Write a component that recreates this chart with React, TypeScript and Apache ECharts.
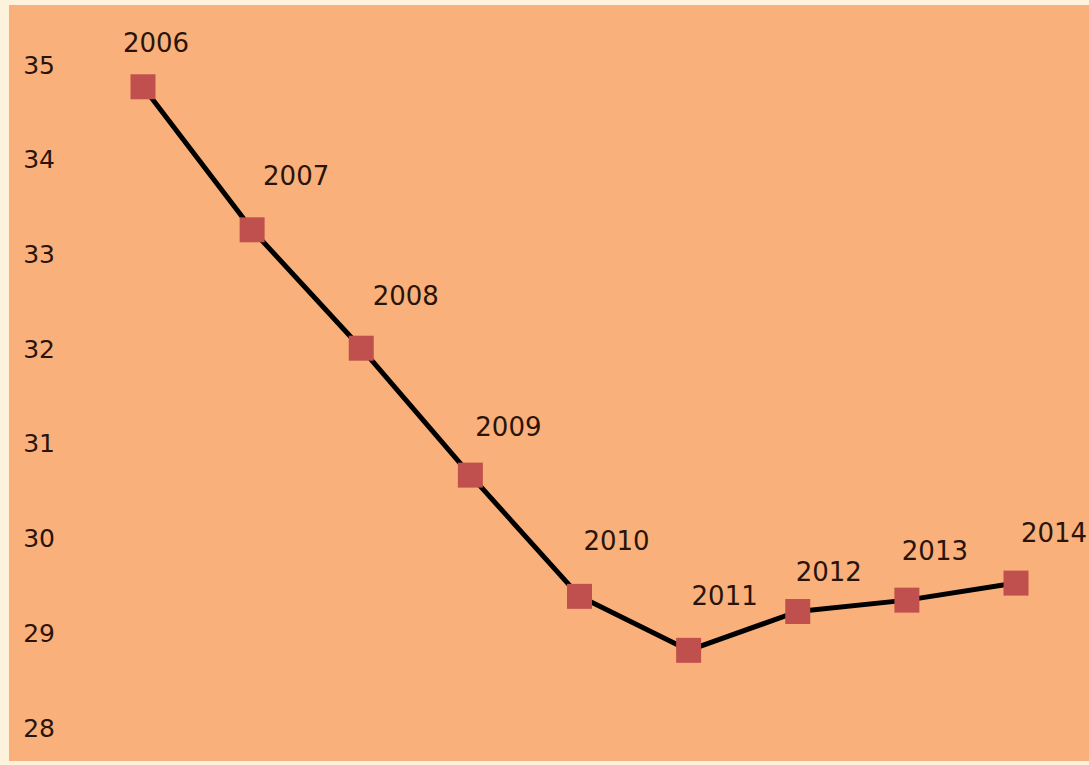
import React, { useEffect, useRef } from "react";
import * as echarts from "echarts";

const years = ["2006", "2007", "2008", "2009", "2010", "2011", "2012", "2013", "2014"];
const values = [34.77, 33.26, 32.01, 30.67, 29.39, 28.82, 29.23, 29.35, 29.53];
const yMin = 28;
const yMax = 35;
// per-point label offsets (dx, dy) as placed in the original
const labelOffsets: [number, number][] = [
  [13, -18.5],
  [44, -28.5],
  [44.5, -27],
  [38, -23],
  [37, -29.5],
  [36, -28.5],
  [31, -14],
  [28, -24],
  [38, -25],
];

export default function App() {
  const ref = useRef<HTMLDivElement>(null);
  useEffect(() => {
    document.body.style.margin = "0";
    const chart = echarts.init(ref.current!, null, { renderer: "svg" });
    chart.setOption({
      animation: false,
      backgroundColor: "#FDF3DC",
      graphic: [
        {
          type: "rect",
          z: -10,
          shape: { x: 9, y: 5, width: 1080, height: 756 },
          style: { fill: "#F9B07A" },
          silent: true,
        },
      ],
      grid: { left: 143, right: 73, top: 65, bottom: 37 },
      xAxis: {
        type: "category",
        data: years,
        boundaryGap: false,
        axisLine: { show: false },
        axisTick: { show: false },
        axisLabel: { show: false },
        splitLine: { show: false },
      },
      yAxis: {
        type: "value",
        min: yMin,
        max: yMax,
        interval: 1,
        axisLine: { show: false },
        axisTick: { show: false },
        splitLine: { show: false },
        axisLabel: {
          margin: 88,
          fontFamily: "DejaVu Sans",
          fontSize: 25,
          color: "#2A140A",
        },
      },
      series: [
        {
          type: "line",
          data: values.map((v, i) => ({
            value: v,
            label: { offset: labelOffsets[i] },
          })),
          symbol: "rect",
          symbolSize: 25,
          itemStyle: { color: "#C0504D" },
          lineStyle: { color: "#000000", width: 5 },
          z: 2,
          label: {
            show: true,
            position: "top",
            distance: 0,
            formatter: (p: any) => years[p.dataIndex],
            fontFamily: "DejaVu Sans",
            fontSize: 26,
            color: "#2A140A",
          },
        },
      ],
    });
    return () => chart.dispose();
  }, []);
  return <div ref={ref} style={{ width: 1089, height: 765 }} />;
}
